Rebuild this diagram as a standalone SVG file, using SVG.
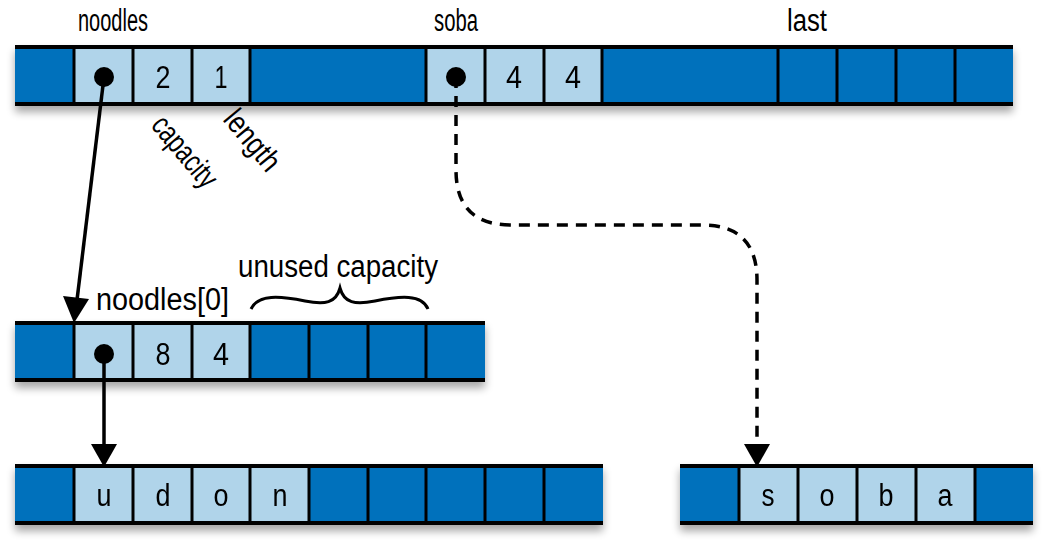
<svg xmlns="http://www.w3.org/2000/svg" width="1062" height="558" viewBox="0 0 1062 558">
<defs>
<style>
.d{fill:#0071bc}.l{fill:#b0d4ea}
.sep{stroke:#000;stroke-width:3}
.rail{stroke:#000;stroke-width:4}
text{font-family:"Liberation Sans",Arial,sans-serif;font-size:31px;fill:#000}
.c{text-anchor:middle}
.con{stroke:#000;stroke-width:3.5;fill:none}
</style>
<filter id="sh" x="-5%" y="-20%" width="110%" height="160%"><feGaussianBlur in="SourceAlpha" stdDeviation="4"/><feOffset dy="6"/><feComponentTransfer><feFuncA type="linear" slope="0.35"/></feComponentTransfer><feMerge><feMergeNode/><feMergeNode in="SourceGraphic"/></feMerge></filter>
</defs>
<g id="row-top" filter="url(#sh)">
<rect class="d" x="15" y="47" width="998" height="57"/>
<rect class="l" x="74" y="47" width="176" height="57"/>
<rect class="l" x="426" y="47" width="176" height="57"/>
<path class="sep" d="M74,47V104M133,47V104M192,47V104M250,47V104M426,47V104M485,47V104M544,47V104M602,47V104M778,47V104M837,47V104M896,47V104M955,47V104"/>
<path class="rail" d="M15,47H1013M15,104H1013"/>
<circle cx="104" cy="77" r="10"/>
<text class="c" x="163" y="88" textLength="15" lengthAdjust="spacingAndGlyphs">2</text>
<text class="c" x="221" y="88" textLength="13" lengthAdjust="spacingAndGlyphs">1</text>
<circle cx="456" cy="77" r="10"/>
<text class="c" x="514" y="88" textLength="16" lengthAdjust="spacingAndGlyphs">4</text>
<text class="c" x="573" y="88" textLength="16" lengthAdjust="spacingAndGlyphs">4</text>
</g>
<g id="labels-top">
<text class="c" x="113" y="31" textLength="70" lengthAdjust="spacingAndGlyphs">noodles</text>
<text class="c" x="456" y="31" textLength="44" lengthAdjust="spacingAndGlyphs">soba</text>
<text class="c" x="807" y="31" textLength="40" lengthAdjust="spacingAndGlyphs">last</text>
<text transform="translate(150,126) rotate(50)" textLength="84" lengthAdjust="spacingAndGlyphs">capacity</text>
<text transform="translate(222,120) rotate(50)" textLength="70" lengthAdjust="spacingAndGlyphs">length</text>
</g>
<g id="row-noodles0" filter="url(#sh)">
<rect class="d" x="15" y="323" width="470" height="57"/>
<rect class="l" x="74" y="323" width="176" height="57"/>
<path class="sep" d="M74,323V380M133,323V380M192,323V380M250,323V380M309,323V380M368,323V380M426,323V380"/>
<path class="rail" d="M15,323H485M15,380H485"/>
<circle cx="104" cy="354" r="10"/>
<text class="c" x="163" y="365" textLength="15" lengthAdjust="spacingAndGlyphs">8</text>
<text class="c" x="221" y="365" textLength="16" lengthAdjust="spacingAndGlyphs">4</text>
</g>
<g id="label-noodles0">
<text x="96" y="310" textLength="133" lengthAdjust="spacingAndGlyphs">noodles[0]</text>
<text class="c" x="338" y="277" textLength="200" lengthAdjust="spacingAndGlyphs">unused capacity</text>
<path d="M251,309 C258,294 280,296 305,301 C325,305 336,303 340,288 C344,303 355,305 375,301 C400,296 422,294 428,309" stroke="#000" stroke-width="3" fill="none"/>
</g>
<g id="row-udon" filter="url(#sh)">
<rect class="d" x="15" y="466" width="588" height="57"/>
<rect class="l" x="74" y="466" width="235" height="57"/>
<path class="sep" d="M74,466V523M133,466V523M192,466V523M250,466V523M309,466V523M368,466V523M426,466V523M485,466V523M544,466V523"/>
<path class="rail" d="M15,466H603M15,523H603"/>
<text class="c" x="104" y="506" textLength="15" lengthAdjust="spacingAndGlyphs">u</text>
<text class="c" x="163" y="506" textLength="15" lengthAdjust="spacingAndGlyphs">d</text>
<text class="c" x="221" y="506" textLength="15" lengthAdjust="spacingAndGlyphs">o</text>
<text class="c" x="280" y="506" textLength="15" lengthAdjust="spacingAndGlyphs">n</text>
</g>
<g id="row-soba" filter="url(#sh)">
<rect class="d" x="680" y="466" width="353" height="57"/>
<rect class="l" x="739" y="466" width="236" height="57"/>
<path class="sep" d="M739,466V523M798,466V523M857,466V523M916,466V523M975,466V523"/>
<path class="rail" d="M680,466H1033M680,523H1033"/>
<text class="c" x="768" y="506" textLength="13" lengthAdjust="spacingAndGlyphs">s</text>
<text class="c" x="827" y="506" textLength="15" lengthAdjust="spacingAndGlyphs">o</text>
<text class="c" x="886" y="506" textLength="15" lengthAdjust="spacingAndGlyphs">b</text>
<text class="c" x="945" y="506" textLength="15" lengthAdjust="spacingAndGlyphs">a</text>
</g>
<g id="connectors">
<path class="con" d="M104,77 L77,300"/>
<path d="M63,296 L89,299 L74,323z"/>
<path class="con" d="M104,354 V446"/>
<path d="M91,444 H117 L104,467z"/>
<path class="con" stroke-dasharray="11,8" d="M456,77 V170 Q456,225 511,225 H702 Q757,225 757,280 V446"/>
<path d="M744,444 H770 L757,467z"/>
</g>
</svg>
